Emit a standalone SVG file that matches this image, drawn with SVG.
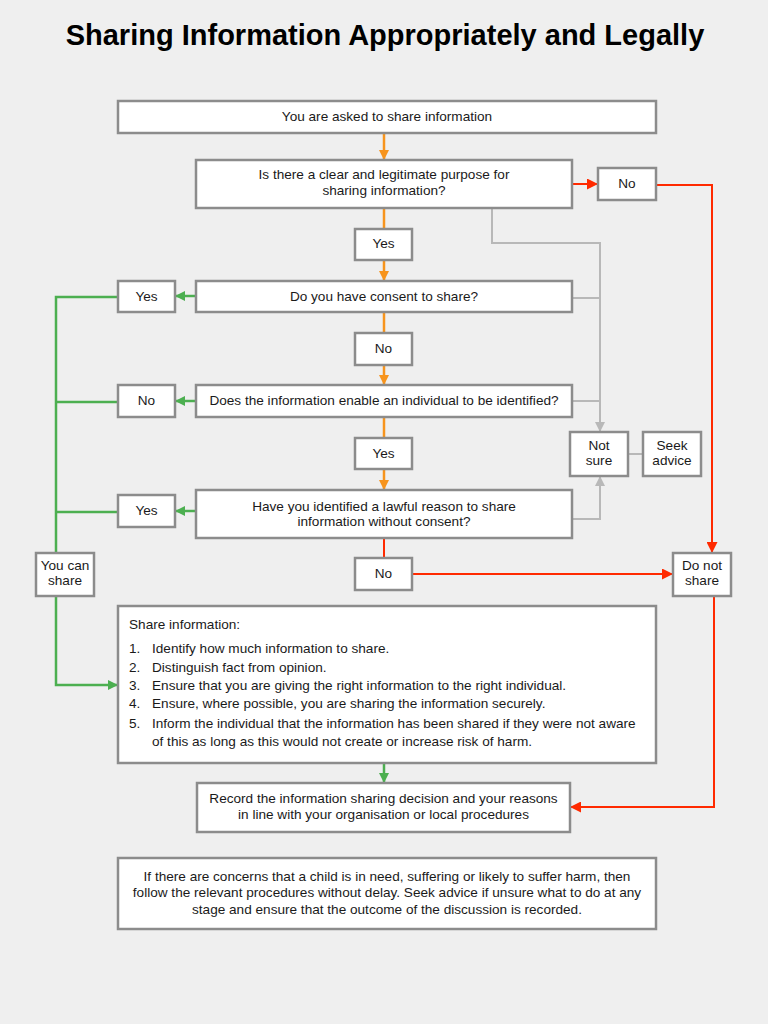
<svg xmlns="http://www.w3.org/2000/svg" width="768" height="1024" viewBox="0 0 768 1024">
<defs>
<style>
.box{fill:#fff;stroke:#8c8c8c;stroke-width:2.5}
.t{font-family:"Liberation Sans",Arial,sans-serif;font-size:13.6px;fill:#1a1a1a;text-anchor:middle}
.l{font-family:"Liberation Sans",Arial,sans-serif;font-size:13.6px;fill:#1a1a1a}
.o{stroke:#f7941d;stroke-width:2.5;fill:none}
.r{stroke:#ff2a00;stroke-width:2;fill:none}
.g{stroke:#4caf50;stroke-width:2.5;fill:none}
.gr{stroke:#b8b8b8;stroke-width:2;fill:none}
</style>
<marker id="ao" viewBox="0 0 10 10" refX="10" refY="5" markerWidth="10" markerHeight="10" markerUnits="userSpaceOnUse" orient="auto"><path d="M0,0L10,5L0,10z" fill="#f7941d"/></marker>
<marker id="ar" viewBox="0 0 10 10" refX="10" refY="5" markerWidth="11" markerHeight="11" markerUnits="userSpaceOnUse" orient="auto"><path d="M0,0L10,5L0,10z" fill="#ff2a00"/></marker>
<marker id="ag" viewBox="0 0 10 10" refX="10" refY="5" markerWidth="10" markerHeight="10" markerUnits="userSpaceOnUse" orient="auto"><path d="M0,0L10,5L0,10z" fill="#4caf50"/></marker>
<marker id="agr" viewBox="0 0 10 10" refX="10" refY="5" markerWidth="10" markerHeight="10" markerUnits="userSpaceOnUse" orient="auto"><path d="M0,0L10,5L0,10z" fill="#b8b8b8"/></marker>
</defs>
<rect width="768" height="1024" fill="#efefef"/>
<text x="385" y="45" font-family="'Liberation Sans',Arial,sans-serif" font-size="29" font-weight="bold" text-anchor="middle" fill="#000">Sharing Information Appropriately and Legally</text>

<g id="connectors">
<path class="o" d="M384,133V160" marker-end="url(#ao)"/>
<path class="o" d="M384,208V229"/>
<path class="o" d="M384,260V281" marker-end="url(#ao)"/>
<path class="o" d="M384,312V333"/>
<path class="o" d="M384,365V385" marker-end="url(#ao)"/>
<path class="o" d="M384,417V438"/>
<path class="o" d="M384,469V490" marker-end="url(#ao)"/>
<path class="r" d="M384,538V558" stroke-width="2.5"/>
<path class="r" d="M572,184H598" stroke-width="2.5" marker-end="url(#ar)"/>
<path class="r" d="M656,185H712V553" marker-end="url(#ar)"/>
<path class="r" d="M412,574H673" marker-end="url(#ar)"/>
<path class="r" d="M714,596V807H570" marker-end="url(#ar)"/>
<path class="g" d="M196,296H175" marker-end="url(#ag)"/>
<path class="g" d="M196,401H175" marker-end="url(#ag)"/>
<path class="g" d="M196,511H175" marker-end="url(#ag)"/>
<path class="g" d="M118,297H56V553" stroke-width="2"/>
<path class="g" d="M118,402H56"/>
<path class="g" d="M118,512H56" stroke-width="2"/>
<path class="g" d="M56,596V685H118" marker-end="url(#ag)"/>
<path class="g" d="M384,763V783" marker-end="url(#ag)"/>
<path class="gr" d="M492,208V243H600V432" marker-end="url(#agr)"/>
<path class="gr" d="M572,298H600"/>
<path class="gr" d="M572,401H600"/>
<path class="gr" d="M572,519H600V476" marker-end="url(#agr)"/>
<path class="gr" d="M628,454H643"/>
</g>

<g id="start"><rect class="box" x="118" y="101" width="538" height="32"/><text class="t" x="387" y="121">You are asked to share information</text></g>
<g id="q1"><rect class="box" x="196" y="160" width="376" height="48"/><text class="t" x="384" y="179">Is there a clear and legitimate purpose for</text><text class="t" x="384" y="195">sharing information?</text></g>
<g id="q1-no"><rect class="box" x="598" y="168" width="58" height="32"/><text class="t" x="627" y="188">No</text></g>
<g id="q1-yes"><rect class="box" x="355" y="229" width="57" height="31"/><text class="t" x="383.500" y="248">Yes</text></g>
<g id="q2"><rect class="box" x="196" y="281" width="376" height="31"/><text class="t" x="384" y="301">Do you have consent to share?</text></g>
<g id="q2-yes"><rect class="box" x="118" y="281" width="57" height="31"/><text class="t" x="146.500" y="301">Yes</text></g>
<g id="q2-no"><rect class="box" x="355" y="333" width="57" height="32"/><text class="t" x="383.500" y="353">No</text></g>
<g id="q3"><rect class="box" x="196" y="385" width="376" height="32"/><text class="t" x="384" y="405">Does the information enable an individual to be identified?</text></g>
<g id="q3-no"><rect class="box" x="118" y="385" width="57" height="32"/><text class="t" x="146.500" y="405">No</text></g>
<g id="q3-yes"><rect class="box" x="355" y="438" width="57" height="31"/><text class="t" x="383.500" y="458">Yes</text></g>
<g id="q4"><rect class="box" x="196" y="490" width="376" height="48"/><text class="t" x="384" y="511">Have you identified a lawful reason to share</text><text class="t" x="384" y="526">information without consent?</text></g>
<g id="q4-yes"><rect class="box" x="118" y="495" width="57" height="32"/><text class="t" x="146.500" y="515">Yes</text></g>
<g id="q4-no"><rect class="box" x="355" y="558" width="57" height="32"/><text class="t" x="383.500" y="578">No</text></g>
<g id="can-share"><rect class="box" x="36" y="553" width="58" height="43"/><text class="t" x="65" y="570">You can</text><text class="t" x="65" y="585">share</text></g>
<g id="not-sure"><rect class="box" x="570" y="432" width="58" height="44"/><text class="t" x="599" y="450">Not</text><text class="t" x="599" y="465">sure</text></g>
<g id="seek-advice"><rect class="box" x="643" y="432" width="58" height="44"/><text class="t" x="672" y="450">Seek</text><text class="t" x="672" y="465">advice</text></g>
<g id="do-not-share"><rect class="box" x="673" y="553" width="58" height="43"/><text class="t" x="702" y="570">Do not</text><text class="t" x="702" y="585">share</text></g>
<g id="share-info"><rect class="box" x="118" y="606" width="538" height="157"/>
<text class="l" x="129" y="629">Share information:</text>
<text class="l" x="129" y="653">1.</text><text class="l" x="152" y="653">Identify how much information to share.</text>
<text class="l" x="129" y="672">2.</text><text class="l" x="152" y="672">Distinguish fact from opinion.</text>
<text class="l" x="129" y="690">3.</text><text class="l" x="152" y="690">Ensure that you are giving the right information to the right individual.</text>
<text class="l" x="129" y="708">4.</text><text class="l" x="152" y="708">Ensure, where possible, you are sharing the information securely.</text>
<text class="l" x="129" y="728">5.</text><text class="l" x="152" y="728">Inform the individual that the information has been shared if they were not aware</text>
<text class="l" x="152" y="746">of this as long as this would not create or increase risk of harm.</text>
</g>
<g id="record"><rect class="box" x="197" y="783" width="373" height="49"/><text class="t" x="383.500" y="803">Record the information sharing decision and your reasons</text><text class="t" x="383.500" y="819">in line with your organisation or local procedures</text></g>
<g id="note"><rect class="box" x="118" y="858" width="538" height="71"/><text class="t" x="387" y="881">If there are concerns that a child is in need, suffering or likely to suffer harm, then</text><text class="t" x="387" y="897">follow the relevant procedures without delay. Seek advice if unsure what to do at any</text><text class="t" x="387" y="914">stage and ensure that the outcome of the discussion is recorded.</text></g>
</svg>
